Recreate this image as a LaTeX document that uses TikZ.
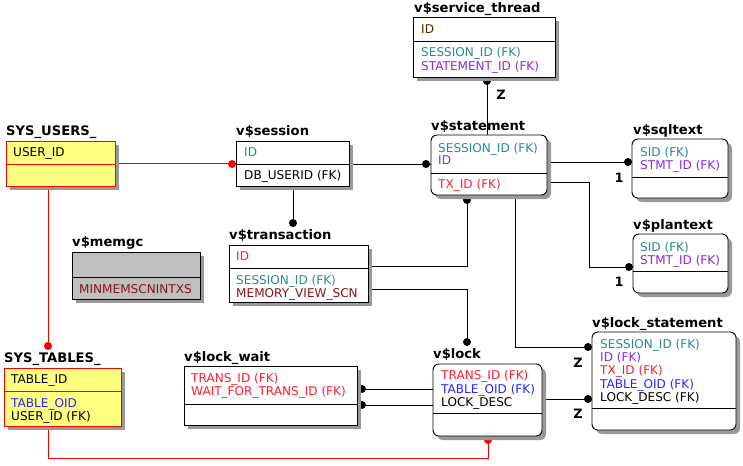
\documentclass[tikz,border=0pt]{standalone}
\usepackage{fontspec}
\setmainfont{DejaVu Sans}
\usepackage{tikz}
\usetikzlibrary{positioning, fit, shadows, backgrounds, calc}

\definecolor{fkteal}{RGB}{40,140,140}
\definecolor{fkviolet}{RGB}{140,40,230}
\definecolor{fkred}{RGB}{255,30,50}
\definecolor{fkblue}{RGB}{40,40,255}
\definecolor{fkmaroon}{RGB}{130,20,30}
\definecolor{fkbrown}{RGB}{80,40,0}
\definecolor{sysyellow}{RGB}{255,255,128}

\begin{document}
\begin{tikzpicture}[x=0.03cm, y=-0.03cm,
  tbl/.style={draw=black, fill=white, inner sep=0pt, line width=0.8pt,
    drop shadow={shadow xshift=0.12cm, shadow yshift=-0.12cm,
      fill=black!40, opacity=1}},
  rtbl/.style={tbl, rounded corners=5pt},
  systbl/.style={tbl, draw=red, fill=sysyellow},
  title/.style={anchor=base west, inner sep=0pt,
    font=\fontsize{11.2}{13}\selectfont\bfseries},
  fld/.style={anchor=base west, inner sep=0pt,
    font=\fontsize{10.3}{12}\selectfont},
  card/.style={inner sep=0pt, font=\fontsize{11}{13}\selectfont\bfseries},
  link/.style={line width=0.8pt},
  redlink/.style={link, red}]

  \useasboundingbox (0,0) rectangle (743,465);

  % --- Tabelle ---
  \node[systbl, fit={(6,141) (115,186)}] (users) {};
  \node[tbl, fit={(236,141) (349,186)}] (session) {};
  \node[tbl, fit={(229,245) (368,302)}] (transaction) {};
  \node[tbl, fill=black!25, fit={(72,252) (200,299)}] (memgc) {};
  \node[tbl, fit={(413,17) (555,77)}] (thread) {};
  \node[rtbl, fit={(431,135) (547,195)}] (statement) {};
  \node[rtbl, fit={(632,139) (728,198)}] (sqltext) {};
  \node[rtbl, fit={(633,234) (728,293)}] (plantext) {};
  \node[rtbl, fit={(592,332) (736,430)}] (lockstmt) {};
  \node[rtbl, fit={(433,364) (542,436)}] (lock) {};
  \node[tbl, fit={(184,366) (357,425)}] (lockwait) {};
  \node[systbl, fit={(4,368) (121,426)}] (tables) {};

  % --- Separatori chiave / attributi ---
  \foreach \n/\y in {session/164, transaction/268, memgc/277, thread/41,
      statement/173, sqltext/177, plantext/271, lockstmt/408,
      lock/413, lockwait/404}{
    \draw[link] (\n.west |- 0,\y) -- (\n.east |- 0,\y);
  }
  \draw[redlink] (users.west |- 0,164) -- (users.east |- 0,164);
  \draw[redlink] (tables.west |- 0,391) -- (tables.east |- 0,391);

  % --- Titoli ---
  \node[title] (users-t) at (6,135) {SYS\_USERS\_};
  \node[title] (session-t) at (236,135) {v\$session};
  \node[title] (transaction-t) at (229,239) {v\$transaction};
  \node[title] (memgc-t) at (72,246) {v\$memgc};
  \node[title] (thread-t) at (414,12) {v\$service\_thread};
  \node[title] (statement-t) at (431,130) {v\$statement};
  \node[title] (sqltext-t) at (633,134) {v\$sqltext};
  \node[title] (plantext-t) at (633,229) {v\$plantext};
  \node[title] (lockstmt-t) at (592,327) {v\$lock\_statement};
  \node[title] (lock-t) at (433,358) {v\$lock};
  \node[title] (lockwait-t) at (184,361) {v\$lock\_wait};
  \node[title] (tables-t) at (4,362) {SYS\_TABLES\_};

  % --- Campi ---
  \node[fld] (users-f1) at (13,156) {USER\_ID};

  \node[fld, fkteal] (session-f1) at (244,156) {ID};
  \node[fld] (session-f2) at (244,179) {DB\_USERID (FK)};

  \node[fld, fkred] (transaction-f1) at (236,260) {ID};
  \node[fld, fkteal] (transaction-f2) at (236,284) {SESSION\_ID (FK)};
  \node[fld, fkmaroon] (transaction-f3) at (236,297) {MEMORY\_VIEW\_SCN};

  \node[fld, fkmaroon] (memgc-f1) at (79,293) {MINMEMSCNINTXS};

  \node[fld, fkbrown] (thread-f1) at (421,33) {ID};
  \node[fld, fkteal] (thread-f2) at (421,56) {SESSION\_ID (FK)};
  \node[fld, fkviolet] (thread-f3) at (421,70) {STATEMENT\_ID (FK)};

  \node[fld, fkteal] (statement-f1) at (438,152) {SESSION\_ID (FK)};
  \node[fld, fkviolet] (statement-f2) at (438,164) {ID};
  \node[fld, fkred] (statement-f3) at (438,188) {TX\_ID (FK)};

  \node[fld, fkteal] (sqltext-f1) at (640,156) {SID (FK)};
  \node[fld, fkviolet] (sqltext-f2) at (640,169) {STMT\_ID (FK)};

  \node[fld, fkteal] (plantext-f1) at (640,251) {SID (FK)};
  \node[fld, fkviolet] (plantext-f2) at (640,264) {STMT\_ID (FK)};

  \node[fld, fkteal] (lockstmt-f1) at (600,348) {SESSION\_ID (FK)};
  \node[fld, fkviolet] (lockstmt-f2) at (600,361) {ID (FK)};
  \node[fld, fkred] (lockstmt-f3) at (600,374) {TX\_ID (FK)};
  \node[fld, fkblue] (lockstmt-f4) at (600,388) {TABLE\_OID (FK)};
  \node[fld] (lockstmt-f5) at (600,401) {LOCK\_DESC (FK)};

  \node[fld, fkred] (lock-f1) at (441,379) {TRANS\_ID (FK)};
  \node[fld, fkblue] (lock-f2) at (441,393) {TABLE\_OID (FK)};
  \node[fld] (lock-f3) at (441,406) {LOCK\_DESC};

  \node[fld, fkred] (lockwait-f1) at (191,382) {TRANS\_ID (FK)};
  \node[fld, fkred] (lockwait-f2) at (191,395) {WAIT\_FOR\_TRANS\_ID (FK)};

  \node[fld] (tables-f1) at (11,383) {TABLE\_ID};
  \node[fld, fkblue] (tables-f2) at (11,407) {TABLE\_OID};
  \node[fld] (tables-f3) at (11,420) {USER\_ID (FK)};

  % --- Relazioni (sotto le tabelle) ---
  \begin{pgfonlayer}{background}
    \draw[redlink] (users.east) -- (session.west);
    \draw[redlink] (users.south -| 48,0) -- (48,346) coordinate (tables-dot);
    \draw[redlink] (tables.south -| 48,0) -- ++(0,32) -| (lock.south -| 488,0);

    \draw[link] (session.east |- 0,164) -- (statement.west |- 0,164);
    \draw[link] (session.south -| 293,0) -- (293,223) coordinate (transaction-dot);
    \draw[link] (thread.south -| 487,0) -- (statement.north -| 487,0);
    \draw[link] (statement.east |- 0,162) -- (sqltext.west |- 0,162);
    \draw[link] (statement.east |- 0,182) -| (589,267) -- (plantext.west |- 0,267);
    \draw[link] (statement.south -| 515,0) |- (lockstmt.west |- 0,347);
    \draw[link] (transaction.east |- 0,266) -| (statement.south -| 467,0);
    \draw[link] (transaction.east |- 0,289) -| (467,342) coordinate (lock-dot);
    \draw[link] (lock.east |- 0,399) -- (lockstmt.west |- 0,399);
    \draw[link] (lockwait.east |- 0,389) -- (lock.west |- 0,389);
    \draw[link] (lockwait.east |- 0,405) -- (lock.west |- 0,405);

    % pallini (mezzi pallini coperti dall'ombra)
    \foreach \p in {(232,164), (tables-dot), (488,440)}{
      \fill[red] \p circle (3.4pt);
    }
    \foreach \p in {(426,164), (transaction-dot), (487,81), (628,162),
        (629,267), (588,347), (467,200), (lock-dot), (588,399),
        (362,389), (362,405)}{
      \fill \p circle (3.4pt);
    }
  \end{pgfonlayer}

  % --- Cardinalita' ---
  \node[card] (card-thread) at (501,95) {Z};
  \node[card] (card-sqltext) at (619,178) {1};
  \node[card] (card-plantext) at (619,282) {1};
  \node[card] (card-lockstmt1) at (578,363) {Z};
  \node[card] (card-lockstmt2) at (578,414) {Z};

\end{tikzpicture}
\end{document}
